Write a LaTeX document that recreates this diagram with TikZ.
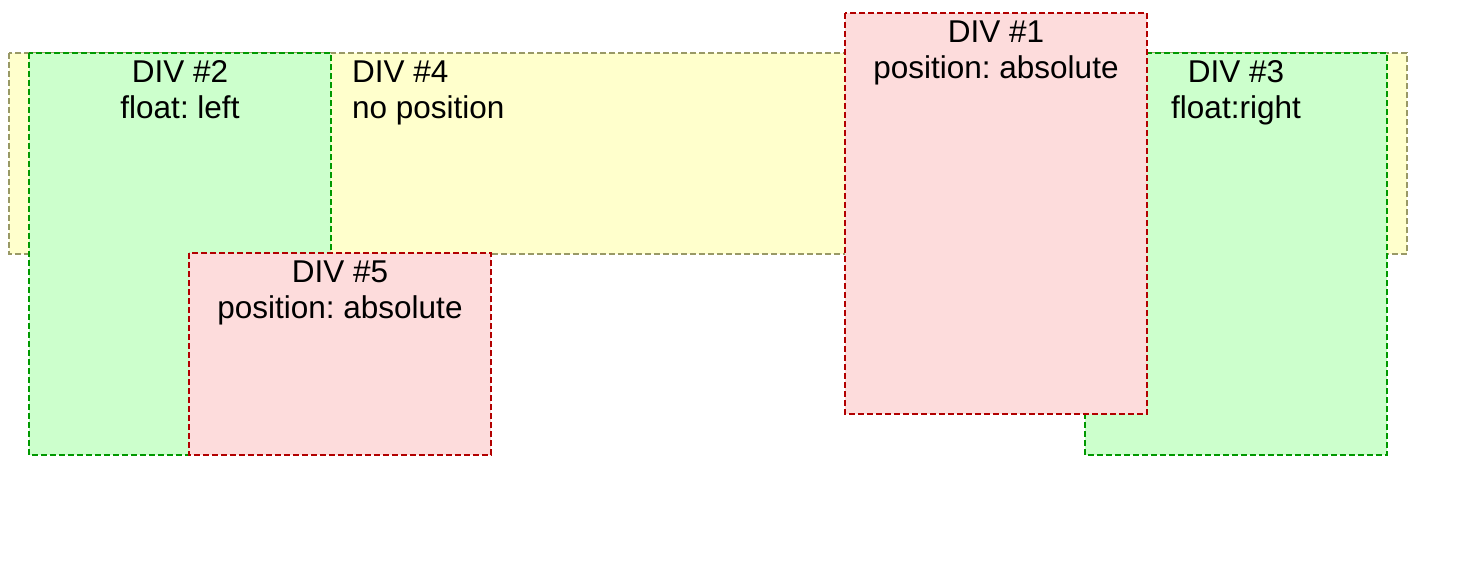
\documentclass[tikz,border=0pt]{standalone}
\usepackage{fontspec}
\setmainfont{Liberation Sans}
\frenchspacing
\definecolor{yfill}{HTML}{FFFFCC}
\definecolor{ydraw}{HTML}{999966}
\definecolor{gfill}{HTML}{CCFFCC}
\definecolor{gdraw}{HTML}{009900}
\definecolor{rfill}{HTML}{FDDCDC}
\definecolor{rdraw}{HTML}{B20000}
\begin{document}
\begin{tikzpicture}[x=1pt,y=-1pt,
  divbox/.style={line width=2pt, dash pattern=on 6pt off 3pt},
  ybox/.style={divbox, fill=yfill, draw=ydraw},
  gbox/.style={divbox, fill=gfill, draw=gdraw},
  rbox/.style={divbox, fill=rfill, draw=rdraw},
  lbl/.style={inner sep=0pt, anchor=base, font=\fontsize{31.5}{36}\selectfont},
  lbll/.style={lbl, anchor=base west}]
\useasboundingbox (0,0) rectangle (1478,572);
% DIV #4
\path[ybox] (9,53) rectangle (1407,254);
% DIV #2 and #3
\path[gbox] (29,53) rectangle (331,455);
\path[gbox] (1085,53) rectangle (1387,455);
% DIV #1 and #5
\path[rbox] (845,13) rectangle (1147,414);
\path[rbox] (189,253) rectangle (491,455);
% labels
\node[lbl] (t2a) at (180,82.5) {DIV \#2};
\node[lbl] (t2b) at (180,118.5) {float: left};
\node[lbl] (t3a) at (1236,82.5) {DIV \#3};
\node[lbl] (t3b) at (1236,118.5) {float:right};
\node[lbll] (t4a) at (352,82.5) {DIV \#4};
\node[lbll] (t4b) at (352,118.5) {no position};
\node[lbl] (t1a) at (996,42.5) {DIV \#1};
\node[lbl] (t1b) at (996,78.5) {position: absolute};
\node[lbl] (t5a) at (340,282.5) {DIV \#5};
\node[lbl] (t5b) at (340,318.5) {position: absolute};
\end{tikzpicture}
\end{document}
